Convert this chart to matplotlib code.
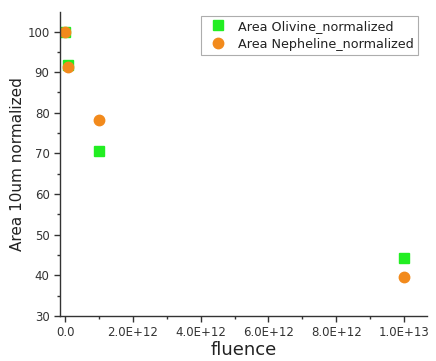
import matplotlib
matplotlib.use("Agg")
import matplotlib.pyplot as plt
from matplotlib.ticker import MultipleLocator

fluence = [0.0, 1e11, 1e12, 1e13]
olivine = [100.0, 91.8, 70.7, 44.3]
nepheline = [100.0, 91.3, 78.2, 39.7]
xticks = [0, 2e12, 4e12, 6e12, 8e12, 1e13]
xticklabels = ["0.0", "2.0E+12", "4.0E+12", "6.0E+12", "8.0E+12", "1.0E+13"]

fig = plt.figure(figsize=(4.36, 3.61), dpi=100)
ax = fig.add_axes([60/436, 45/361, 367/436, 304/361])
ax.plot(fluence, olivine, linestyle="none", marker="s", markersize=6.5,
        color="#22ee22", label="Area Olivine_normalized")
ax.plot(fluence, nepheline, linestyle="none", marker="o", markersize=7.5,
        color="#f28a1c", label="Area Nepheline_normalized")

ax.set_xlim(-0.15e12, 1.068e13)
ax.set_ylim(30, 104.8)
ax.set_xticks(xticks)
ax.set_xticklabels(xticklabels)
ax.xaxis.set_minor_locator(MultipleLocator(1e12))
ax.yaxis.set_major_locator(MultipleLocator(10))
ax.yaxis.set_minor_locator(MultipleLocator(5))
for s in ["top", "right"]:
    ax.spines[s].set_visible(False)
for s in ["left", "bottom"]:
    ax.spines[s].set_color("#333333")
    ax.spines[s].set_linewidth(1.0)
ax.tick_params(which="major", direction="out", length=4, width=1, color="#333333",
               labelsize=8.5, labelcolor="#333333")
ax.tick_params(which="minor", direction="out", length=2.5, width=1, color="#333333")
ax.set_xlabel("fluence", fontsize=13, color="#222222", labelpad=1)
ax.set_ylabel("Area 10um normalized", fontsize=11, color="#222222", labelpad=2)

leg = ax.legend(loc="upper right", bbox_to_anchor=(0.975, 0.987), fontsize=9.2,
                frameon=True, fancybox=False, borderpad=0.3, handletextpad=0.6,
                labelspacing=0.4, handlelength=2.0, borderaxespad=0)
leg.get_frame().set_edgecolor("#999999")
leg.get_frame().set_linewidth(0.8)
for t in leg.get_texts():
    t.set_color("#222222")

fig.savefig("out.png", dpi=100)
